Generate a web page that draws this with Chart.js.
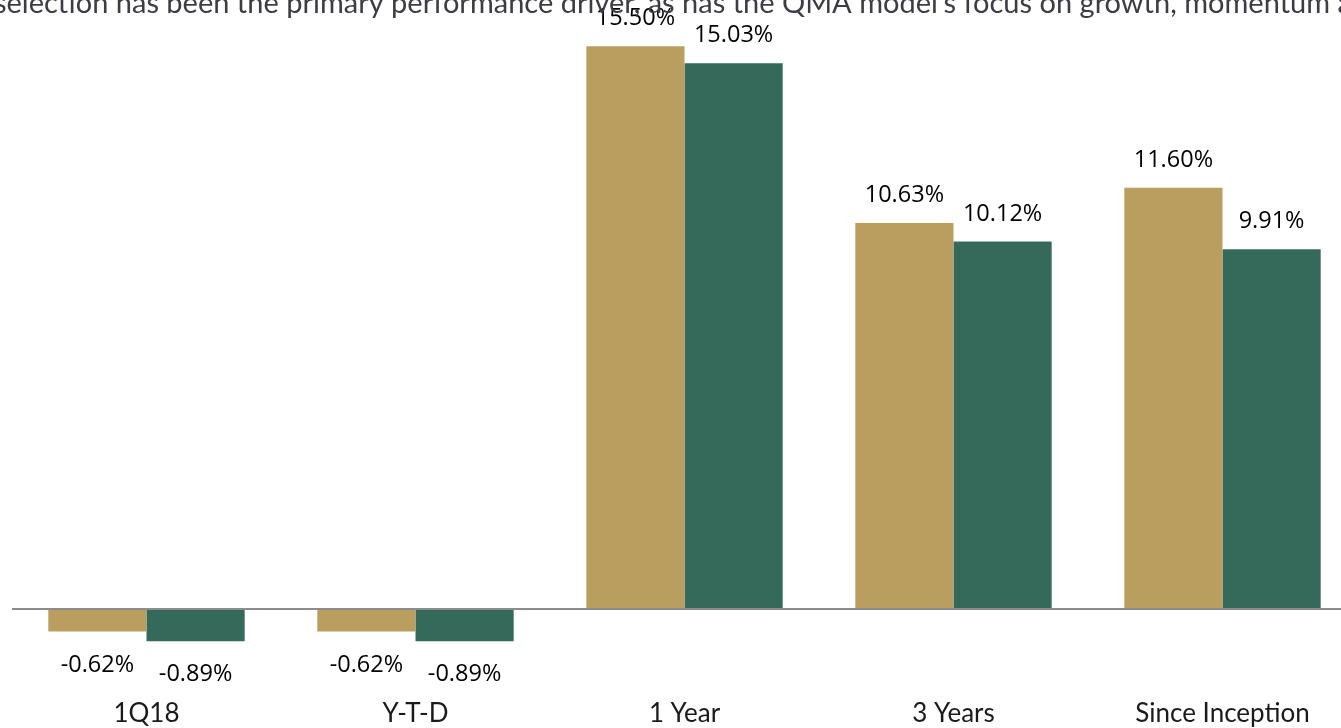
<!DOCTYPE html>
<html>
<head>
<meta charset="utf-8">
<script src="https://cdn.jsdelivr.net/npm/chart.js@4.4.1/dist/chart.umd.min.js"></script>
<style>
  html, body { margin: 0; padding: 0; background: #ffffff; overflow: hidden; }
  #wrap { position: absolute; left: 0; top: 0; width: 1360px; height: 728px; }
</style>
</head>
<body>
<div id="wrap"><canvas id="c" width="1360" height="728"></canvas></div>
<script>
const categories = ["1Q18", "Y-T-D", "1 Year", "3 Years", "Since Inception"];
const seriesA = [-0.62, -0.62, 15.50, 10.63, 11.60];
const seriesB = [-0.89, -0.89, 15.03, 10.12, 9.91];
const seriesNames = ["Portfolio", "Benchmark"];
const headerText = "selection has been the primary performance driver, as has the QMA model\u2019s focus on growth, momentum a";

const GOLD = "#BA9E5F";
const GREEN = "#356A5A";

const valueLabels = {
  id: "valueLabels",
  afterDatasetsDraw(chart) {
    const ctx = chart.ctx;
    ctx.save();
    ctx.font = "23.5px 'Open Sans'";
    ctx.fillStyle = "#000000";
    ctx.textAlign = "center";
    ctx.textBaseline = "middle";
    chart.data.datasets.forEach((ds, i) => {
      const meta = chart.getDatasetMeta(i);
      meta.data.forEach((bar, j) => {
        const v = ds.data[j];
        const txt = v.toFixed(2) + "%";
        const y = v >= 0 ? bar.y - 27.5 : bar.y + 33.5;
        ctx.fillText(txt, bar.x, y);
      });
    });
    ctx.restore();
  }
};

const header = {
  id: "header",
  afterDraw(chart) {
    const ctx = chart.ctx;
    ctx.save();
    ctx.font = "29px Lato";
    ctx.fillStyle = "#3c3c44";
    ctx.textAlign = "left";
    ctx.textBaseline = "alphabetic";
    ctx.fillText(headerText, -6, 13);
    ctx.restore();
  }
};

new Chart(document.getElementById("c"), {
  type: "bar",
  data: {
    labels: categories,
    datasets: [
      { label: seriesNames[0], data: seriesA, backgroundColor: GOLD, borderWidth: 0 },
      { label: seriesNames[1], data: seriesB, backgroundColor: GREEN, borderWidth: 0 }
    ]
  },
  options: {
    responsive: false,
    animation: false,
    layout: { padding: { left: 12, right: 3, top: 28, bottom: 0 } },
    plugins: { legend: { display: false }, tooltip: { enabled: false }, title: { display: false } },
    datasets: { bar: { categoryPercentage: 0.73, barPercentage: 1.0 } },
    scales: {
      x: {
        grid: { display: false, drawTicks: false },
        border: { display: false },
        ticks: { font: { family: "Lato", size: 26 }, color: "#1a1a1a", padding: 6, maxRotation: 0 },
        afterFit(scale) { scale.height = 35.5; }
      },
      y: {
        min: -2.3,
        max: 16,
        afterBuildTicks(scale) { scale.ticks = [{ value: 0 }]; },
        grid: {
          drawTicks: false,
          color: (c) => (c.tick && c.tick.value === 0 ? "#8c8c8c" : "transparent"),
          lineWidth: 2
        },
        border: { display: false },
        ticks: { display: false },
        afterFit(scale) { scale.width = 0; }
      }
    }
  },
  plugins: [valueLabels, header]
});
</script>
</body>
</html>
